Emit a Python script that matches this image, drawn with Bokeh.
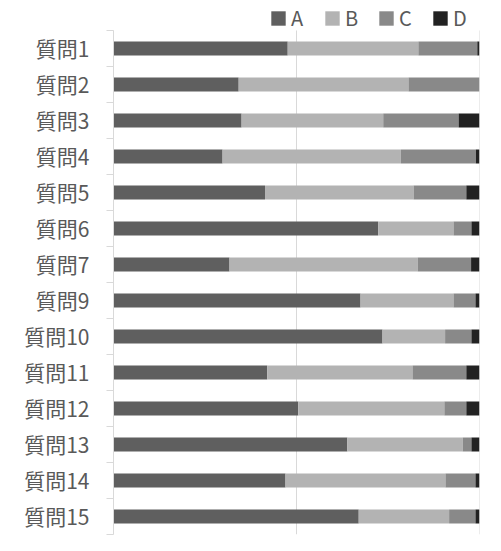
from bokeh.plotting import figure
from bokeh.models import ColumnDataSource, FixedTicker, Range1d, Legend, LegendItem
from bokeh.embed import file_html
from bokeh.resources import INLINE

questions = ["質問1", "質問2", "質問3", "質問4", "質問5", "質問6", "質問7",
             "質問9", "質問10", "質問11", "質問12", "質問13", "質問14", "質問15"]
A = [47.6, 34.2, 35.0, 29.8, 41.4, 72.3, 31.7, 67.5, 73.5, 42.0, 50.5, 63.9, 47.0, 67.0]
B = [35.7, 46.4, 38.7, 48.7, 40.6, 20.6, 51.4, 25.4, 17.1, 39.7, 39.9, 31.5, 43.7, 24.7]
C = [16.1, 19.4, 20.6, 20.5, 14.4, 4.9, 14.6, 6.0, 7.2, 14.7, 6.0, 2.4, 8.2, 7.2]
D = [0.6, 0.0, 5.7, 1.0, 3.6, 2.2, 2.3, 1.1, 2.2, 3.6, 3.6, 2.2, 1.1, 1.1]
series = ["A", "B", "C", "D"]
colors = ["#5f5f5f", "#b3b3b3", "#898989", "#222222"]
x_ticks = [0, 50, 100]

n = len(questions)
ypos = [i + 0.5 for i in range(n)]
source = ColumnDataSource(dict(y=ypos, A=A, B=B, C=C, D=D))
grid_src = ColumnDataSource(dict(x=x_ticks, y0=[0] * len(x_ticks), y1=[n] * len(x_ticks)))

FONT = "Noto Sans CJK JP"
GRID = "#d9d9d9"

p = figure(width=500, height=550, output_backend="svg", toolbar_location=None,
           x_range=Range1d(0, 100), y_range=Range1d(n, -0.833),
           min_border_left=113, min_border_right=21, min_border_top=0, min_border_bottom=16)
p.outline_line_color = None
p.background_fill_color = "white"
p.border_fill_color = "white"
p.xgrid.visible = False
p.ygrid.visible = False
p.xaxis.visible = False

p.segment(x0="x", y0="y0", x1="x", y1="y1", source=grid_src, line_color=GRID, line_width=1)

rs = p.hbar_stack(series, y="y", height=0.39, color=colors, line_color=None, source=source)

ya = p.yaxis[0]
ya.bounds = (0, n)
ya.ticker = FixedTicker(ticks=ypos, minor_ticks=list(range(n + 1)))
ya.major_label_overrides = {y: q for y, q in zip(ypos, questions)}
ya.major_tick_out = 0
ya.major_tick_in = 0
ya.minor_tick_out = 7
ya.minor_tick_in = 0
ya.minor_tick_line_color = GRID
ya.axis_line_color = GRID
ya.major_label_standoff = 17
ya.major_label_text_font = FONT
ya.major_label_text_font_size = "21px"
ya.major_label_text_color = "#595959"

legend = Legend(items=[LegendItem(label=s, renderers=[r]) for s, r in zip(series, rs)],
                orientation="horizontal", location=(156, 502),
                glyph_width=18, glyph_height=18, label_standoff=4, spacing=12,
                padding=0, margin=0, border_line_color=None, background_fill_alpha=0,
                label_text_font=FONT, label_text_font_size="20px", label_text_color="#595959")
p.add_layout(legend, "center")

open("out.html", "w").write(file_html(p, INLINE))
